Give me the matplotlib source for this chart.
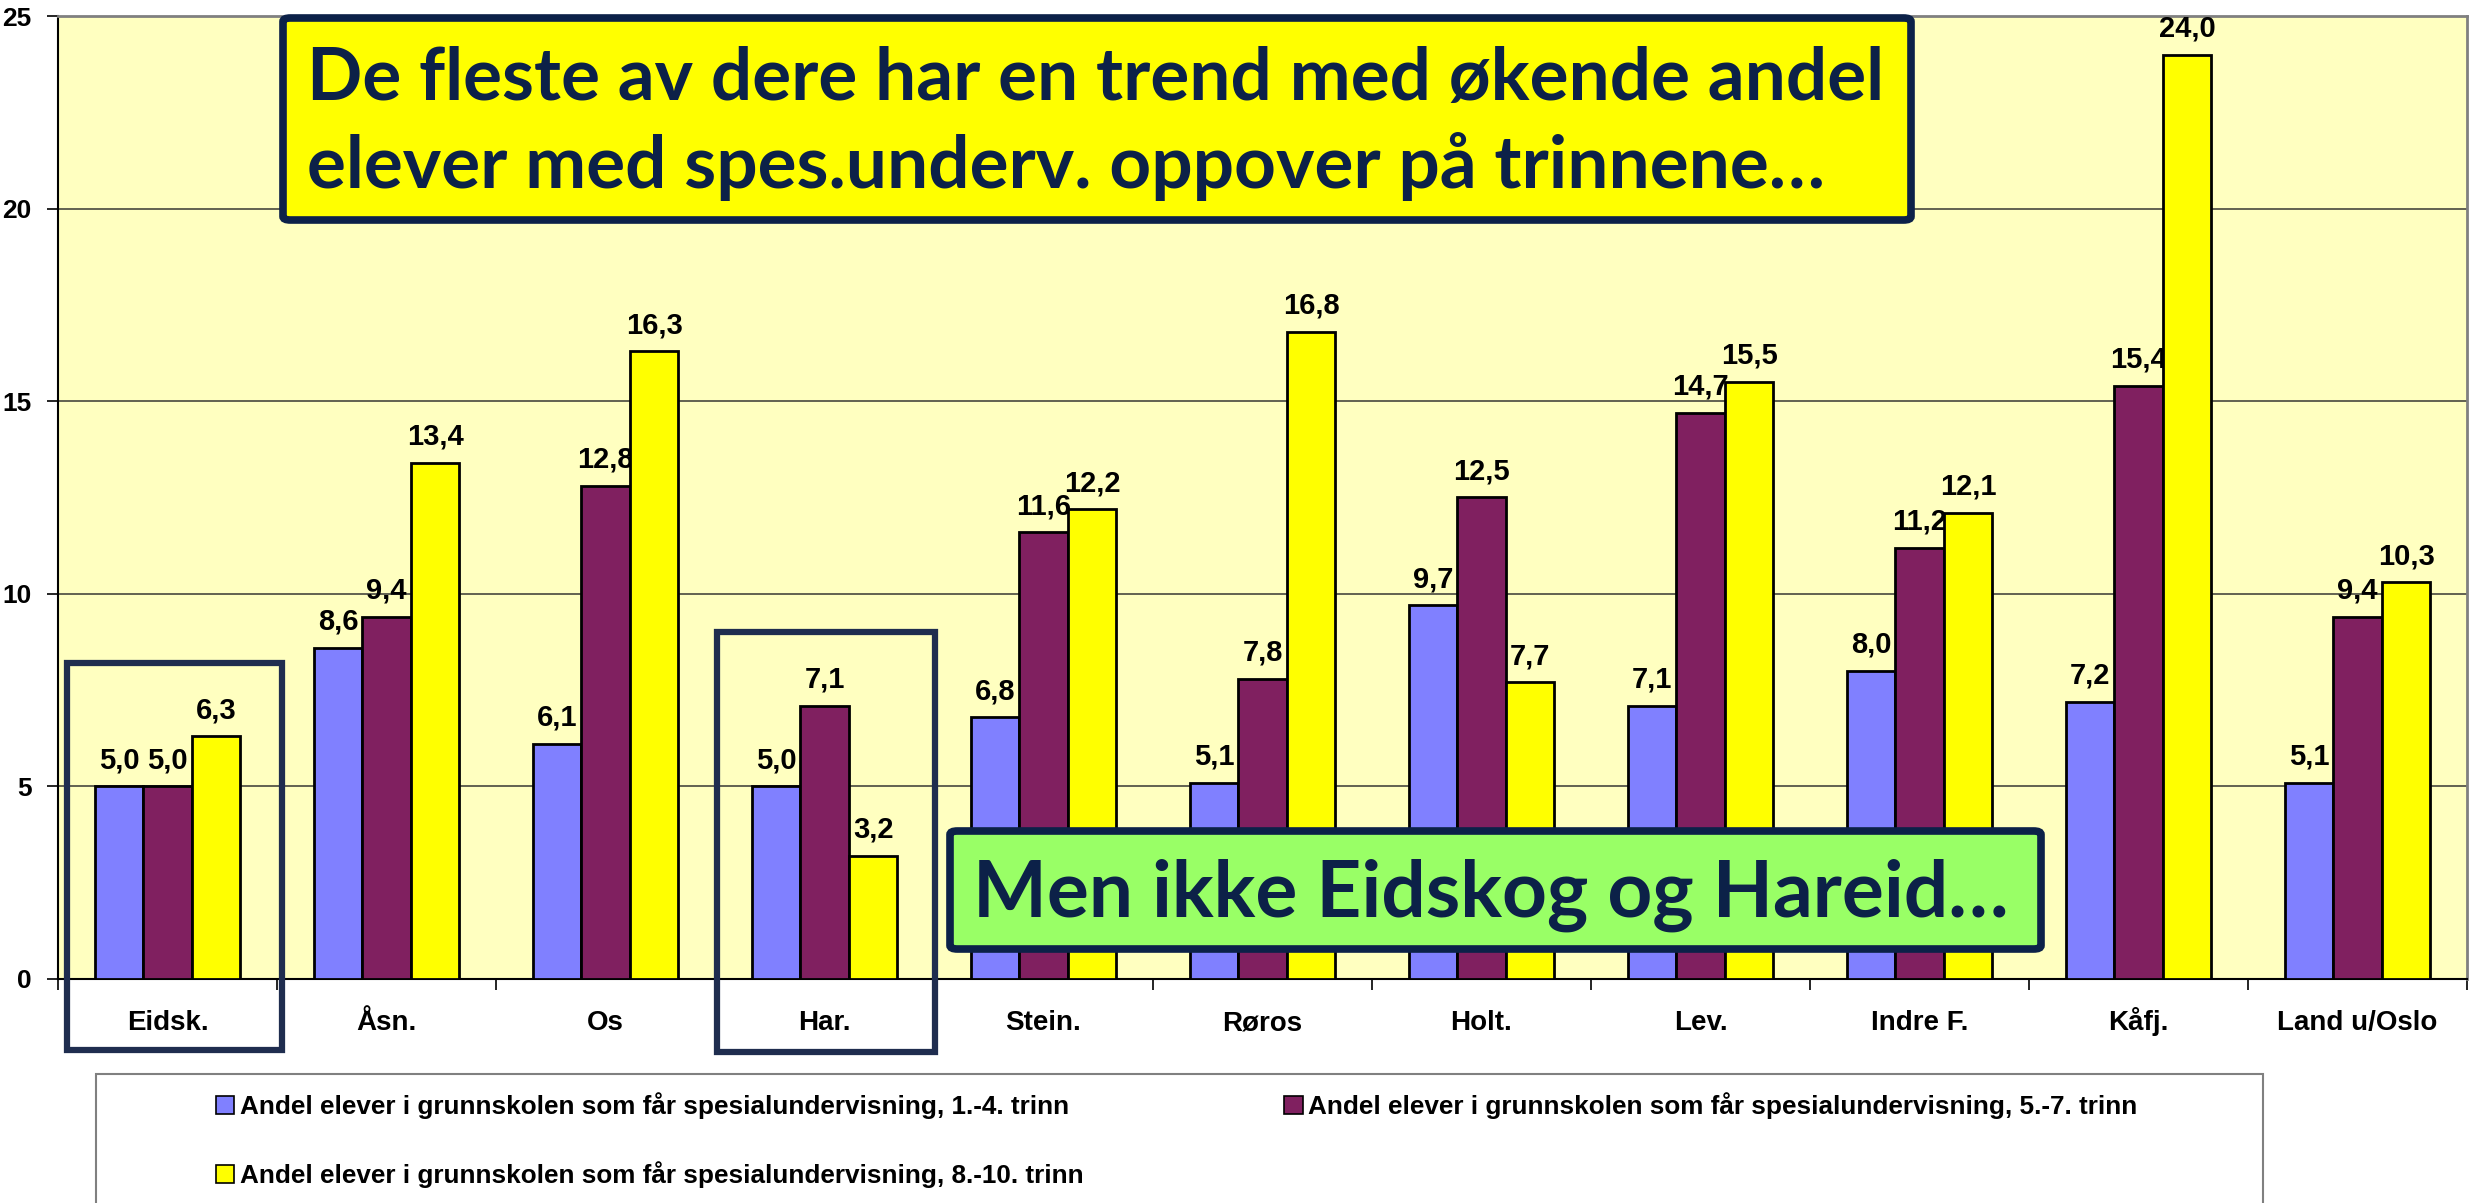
import matplotlib
matplotlib.use("Agg")
import matplotlib.pyplot as plt
import numpy as np
from matplotlib.patches import Patch, Rectangle, FancyBboxPatch

categories = ["Eidsk.", "Åsn.", "Os", "Har.", "Stein.", "Røros", "Holt.",
              "Lev.", "Indre F.", "Kåfj.", "Land u/Oslo"]
trinn_1_4 = [5.0, 8.6, 6.1, 5.0, 6.8, 5.1, 9.7, 7.1, 8.0, 7.2, 5.1]
trinn_5_7 = [5.0, 9.4, 12.8, 7.1, 11.6, 7.8, 12.5, 14.7, 11.2, 15.4, 9.4]
trinn_8_10 = [6.3, 13.4, 16.3, 3.2, 12.2, 16.8, 7.7, 15.5, 12.1, 24.0, 10.3]
series_names = [
    "Andel elever i grunnskolen som får spesialundervisning, 1.-4. trinn",
    "Andel elever i grunnskolen som får spesialundervisning, 5.-7. trinn",
    "Andel elever i grunnskolen som får spesialundervisning, 8.-10. trinn",
]
yticks = [0, 5, 10, 15, 20, 25]
headline = ["De fleste av dere har en trend med økende andel",
            "elever med spes.underv. oppover på trinnene…"]
footnote = "Men ikke Eidskog og Hareid…"

colors = ["#8080FF", "#802060", "#FFFF00"]
navy = "#0C2148"
font = "Liberation Sans"
callout_font = "Lato"

W, H = 2471, 1203
fig = plt.figure(figsize=(W / 100, H / 100), dpi=100)


def fx(px):
    return px / W


def fy(py):
    return 1 - py / H


ax = fig.add_axes([fx(58), fy(979), fx(2467) - fx(58), fy(16) - fy(979)])
ax.set_facecolor("#FFFFC0")

x = np.arange(len(categories))
bw = 0.222
all_series = [trinn_1_4, trinn_5_7, trinn_8_10]
for i, (vals, c) in enumerate(zip(all_series, colors)):
    pos = x + (i - 1) * bw
    ax.bar(pos, vals, width=bw, color=c, edgecolor="black", linewidth=2,
           zorder=3 + i)
    for px_, v in zip(pos, vals):
        ax.annotate(f"{v:.1f}".replace(".", ","), (px_, v), xytext=(0, 13),
                    textcoords="offset points", ha="center", va="baseline",
                    fontsize=21, fontweight="bold", family=font, zorder=3 + i)

ax.set_xlim(-0.5, len(categories) - 0.5)
ax.set_ylim(0, 25)
ax.set_yticks(yticks)
ax.set_yticklabels([str(t) for t in yticks], fontsize=19, fontweight="bold",
                   family=font)
ax.tick_params(axis="y", length=8, width=1.2, pad=11)
ax.set_xticks(x)
ax.set_xticklabels(categories, fontsize=20, fontweight="bold", family=font,
                   va="baseline")
ax.set_xticks(np.arange(len(categories) + 1) - 0.5, minor=True)
ax.tick_params(axis="x", which="major", length=0, pad=37)
ax.tick_params(axis="x", which="minor", length=8, width=1.2)
ax.yaxis.grid(True, color="#555548", linewidth=1.3, zorder=1)
ax.set_axisbelow(True)
for side in ["top", "right"]:
    ax.spines[side].set_color("#808080")
    ax.spines[side].set_linewidth(2)
for side in ["left", "bottom"]:
    ax.spines[side].set_color("black")
    ax.spines[side].set_linewidth(1.5)

# highlight frames around Eidskog and Hareid
for x0, y0, x1, y1 in [(67, 663, 282, 1050), (717, 632, 935, 1052)]:
    fig.add_artist(Rectangle((fx(x0), fy(y1)), fx(x1) - fx(x0), fy(y0) - fy(y1),
                             transform=fig.transFigure, fill=False,
                             edgecolor="#1F2D4F", linewidth=4.5, zorder=20))

renderer = fig.canvas.get_renderer()


def fit_width(t, width_px):
    w = t.get_window_extent(renderer).width
    t.set_fontsize(t.get_fontsize() * width_px / w)


# yellow headline box
fig.add_artist(FancyBboxPatch((fx(283), fy(220)), fx(1911) - fx(283), fy(18) - fy(220),
                              boxstyle="round,pad=0,rounding_size=0.003",
                              transform=fig.transFigure, facecolor="#FFFF00",
                              edgecolor=navy, linewidth=5.5, zorder=30))
t1 = fig.text(fx(307), fy(100), headline[0], ha="left", va="baseline",
              fontsize=48, fontweight="bold", family=callout_font, color=navy,
              zorder=31)
fit_width(t1, 1578)
fig.text(fx(307), fy(188), headline[1], ha="left", va="baseline",
         fontsize=t1.get_fontsize(), fontweight="bold", family=callout_font,
         color=navy, zorder=31)

# green box
fig.add_artist(FancyBboxPatch((fx(950), fy(949)), fx(2041) - fx(950), fy(831) - fy(949),
                              boxstyle="round,pad=0,rounding_size=0.003",
                              transform=fig.transFigure, facecolor="#99FF66",
                              edgecolor=navy, linewidth=5.5, zorder=30))
t3 = fig.text(fx(973), fy(917), footnote, ha="left", va="baseline",
              fontsize=48, fontweight="bold", family=callout_font, color=navy,
              zorder=31)
fit_width(t3, 1038)

# legend
fig.add_artist(Rectangle((fx(96), fy(1250)), fx(2263) - fx(96), fy(1074) - fy(1250),
                         transform=fig.transFigure, facecolor="white",
                         edgecolor="#808080", linewidth=1.5, zorder=0))
handles = [Patch(facecolor=c, edgecolor="black", linewidth=1.2) for c in colors]
order = [0, 2, 1]
fig.legend([handles[i] for i in order], [series_names[i] for i in order],
           ncol=2, loc="upper left", bbox_to_anchor=(fx(203), fy(1079)),
           frameon=False, prop={"family": font, "weight": "bold", "size": 18.8},
           handlelength=0.7, handleheight=0.7, handletextpad=0.2,
           labelspacing=1.63, columnspacing=7.7, borderpad=0)

fig.savefig("out.png", dpi=100)
